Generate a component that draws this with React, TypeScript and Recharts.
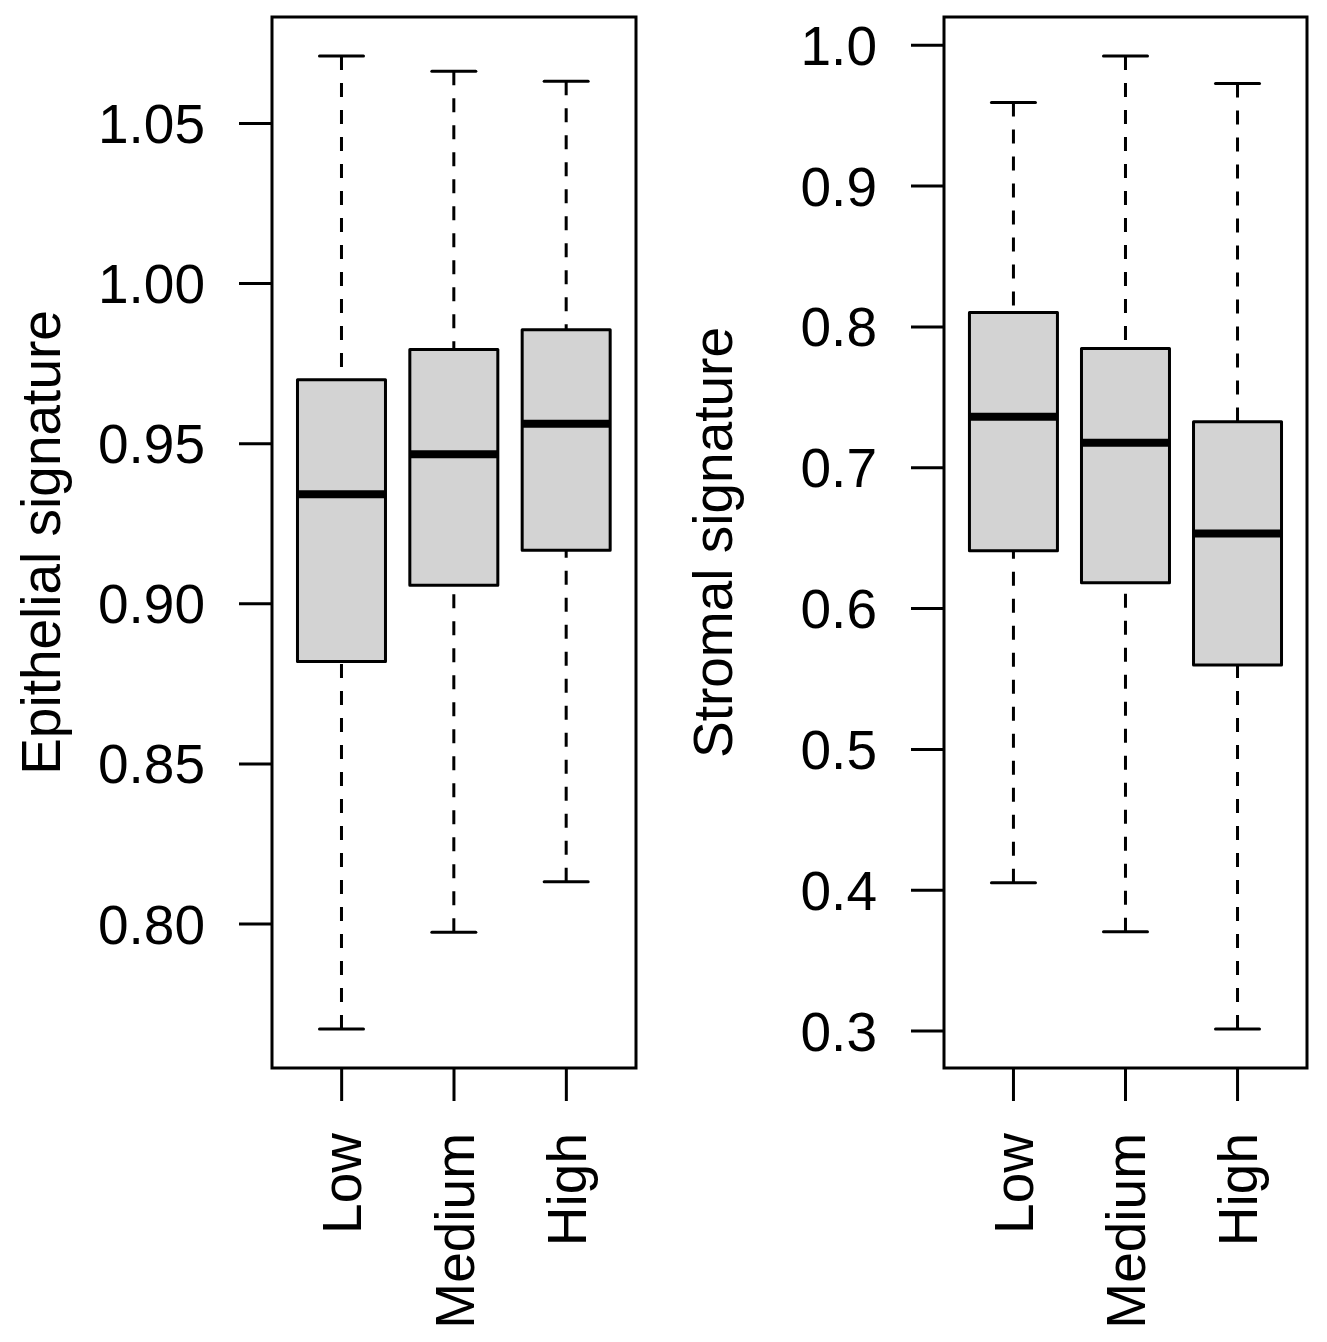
import React from 'react';
import { ComposedChart, Bar, XAxis, YAxis, ReferenceArea } from 'recharts';

const groups = ['Low', 'Medium', 'High'];
const groupPositions = [1, 2, 3];

// Epithelial signature (left panel)
const epiWhiskerLow = [0.7672, 0.7974, 0.8132];
const epiQ1 = [0.882, 0.9058, 0.9167];
const epiMedian = [0.9342, 0.9467, 0.9562];
const epiQ3 = [0.97, 0.9794, 0.9856];
const epiWhiskerHigh = [1.0711, 1.0663, 1.0632];
const epiTicks = [0.8, 0.85, 0.9, 0.95, 1.0, 1.05];

// Stromal signature (right panel)
const stromaWhiskerLow = [0.4053, 0.3705, 0.3014];
const stromaQ1 = [0.641, 0.6183, 0.5599];
const stromaMedian = [0.7362, 0.7177, 0.6533];
const stromaQ3 = [0.8102, 0.7847, 0.7326];
const stromaWhiskerHigh = [0.9593, 0.9924, 0.9728];
const stromaTicks = [0.3, 0.4, 0.5, 0.6, 0.7, 0.8, 0.9, 1.0];

const FONT = '"Liberation Sans", Arial, sans-serif';
const TICK_FONT = 55;
const TITLE_FONT = 55;
const LINE = 3;

// R pads the axis range by 4% on each side
const xDomain: [number, number] = [0.38, 3.62];

function paddedDomain(low: number[], high: number[]): [number, number] {
  const lo = Math.min(...low);
  const hi = Math.max(...high);
  const pad = (hi - lo) * 0.04;
  return [lo - pad, hi + pad];
}

function buildRows(low: number[], q1: number[], med: number[], q3: number[], high: number[]) {
  return groups.map((name, i) => ({
    name,
    pos: groupPositions[i],
    low: low[i],
    q1: q1[i],
    median: med[i],
    q3: q3[i],
    high: high[i],
    range: [low[i], high[i]],
  }));
}

// the bar spans whisker low..high, the rest is placed inside it
const BoxShape = (props: any) => {
  const { x, y, width, height, payload } = props;
  if (!payload) return null;
  const top = Math.min(y, y + height);
  const span = Math.abs(height);
  const { low, q1, median, q3, high } = payload;
  const toPx = (v: number) => top + ((high - v) / (high - low)) * span;
  const cx = x + width / 2;
  const capHalf = width / 4;
  return (
    <g>
      <line x1={cx} x2={cx} y1={toPx(high)} y2={toPx(q3)} stroke="#000" strokeWidth={LINE} strokeDasharray="14 13" />
      <line x1={cx} x2={cx} y1={toPx(low)} y2={toPx(q1)} stroke="#000" strokeWidth={LINE} strokeDasharray="14 13" />
      <line x1={cx - capHalf} x2={cx + capHalf} y1={toPx(high)} y2={toPx(high)} stroke="#000" strokeWidth={LINE} strokeLinecap="round" />
      <line x1={cx - capHalf} x2={cx + capHalf} y1={toPx(low)} y2={toPx(low)} stroke="#000" strokeWidth={LINE} strokeLinecap="round" />
      <rect x={x} y={toPx(q3)} width={width} height={toPx(q1) - toPx(q3)} fill="#d3d3d3" stroke="#000" strokeWidth={LINE} strokeLinejoin="round" />
      <line x1={x} x2={x + width} y1={toPx(median)} y2={toPx(median)} stroke="#000" strokeWidth={8} />
    </g>
  );
};

const CategoryTick = (props: any) => {
  const { x, y, payload } = props;
  return (
    <text
      x={x}
      y={y}
      dy="0.355em"
      textAnchor="end"
      transform={`rotate(-90, ${x}, ${y})`}
      fontSize={TICK_FONT}
      fontFamily={FONT}
      fill="#000"
    >
      {groups[payload.value - 1]}
    </text>
  );
};

interface PanelProps {
  title: string;
  rows: ReturnType<typeof buildRows>;
  domain: [number, number];
  ticks: number[];
  digits: number;
  width: number;
  right: number;
}

const BoxPanel = ({ title, rows, domain, ticks, digits, width, right }: PanelProps) => (
  <ComposedChart width={width} height={1342} data={rows} margin={{ top: 17, right, bottom: 0, left: 0 }}>
    <XAxis
      dataKey="pos"
      type="number"
      domain={xDomain}
      ticks={groupPositions}
      allowDataOverflow
      interval={0}
      height={274}
      axisLine={false}
      tickSize={33}
      tickMargin={32}
      tickLine={{ stroke: '#000', strokeWidth: LINE }}
      tick={CategoryTick}
    />
    <YAxis
      type="number"
      domain={domain}
      ticks={ticks}
      allowDataOverflow
      interval={0}
      width={272}
      axisLine={false}
      tickSize={33}
      tickMargin={34}
      tickLine={{ stroke: '#000', strokeWidth: LINE }}
      tickFormatter={(v: number) => v.toFixed(digits)}
      tick={{ fontSize: TICK_FONT, fill: '#000', fontFamily: FONT }}
      label={{
        value: title,
        angle: -90,
        position: 'insideLeft',
        offset: 40,
        style: { textAnchor: 'middle', fontSize: TITLE_FONT, fill: '#000', fontFamily: FONT },
      }}
    />
    <ReferenceArea
      x1={xDomain[0]}
      x2={xDomain[1]}
      y1={domain[0]}
      y2={domain[1]}
      fill="none"
      stroke="#000"
      strokeWidth={LINE}
      ifOverflow="visible"
    />
    <Bar dataKey="range" barSize={88} shape={BoxShape} isAnimationActive={false} />
  </ComposedChart>
);

export default function App() {
  const epiRows = buildRows(epiWhiskerLow, epiQ1, epiMedian, epiQ3, epiWhiskerHigh);
  const stromaRows = buildRows(stromaWhiskerLow, stromaQ1, stromaMedian, stromaQ3, stromaWhiskerHigh);
  return (
    <div style={{ position: 'absolute', left: 0, top: 0, width: 1327, height: 1342, background: '#fff', fontFamily: FONT }}>
      <div style={{ position: 'absolute', left: 0, top: 0 }}>
        <BoxPanel
          title="Epithelial signature"
          rows={epiRows}
          domain={paddedDomain(epiWhiskerLow, epiWhiskerHigh)}
          ticks={epiTicks}
          digits={2}
          width={663}
          right={27}
        />
      </div>
      <div style={{ position: 'absolute', left: 672, top: 0 }}>
        <BoxPanel
          title="Stromal signature"
          rows={stromaRows}
          domain={paddedDomain(stromaWhiskerLow, stromaWhiskerHigh)}
          ticks={stromaTicks}
          digits={1}
          width={655}
          right={20}
        />
      </div>
    </div>
  );
}
